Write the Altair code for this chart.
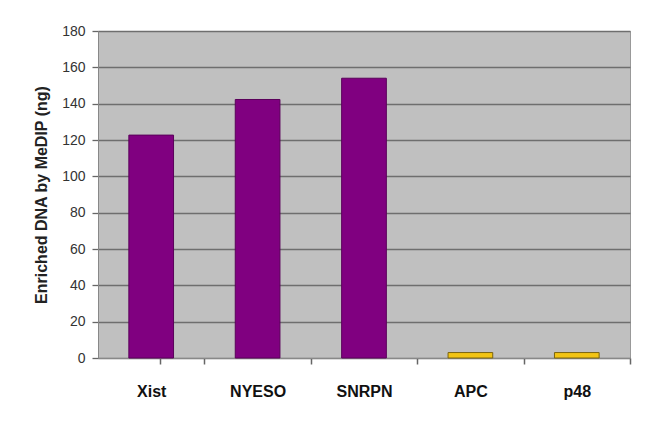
import altair as alt
import pandas as pd

categories = ["Xist", "NYESO", "SNRPN", "APC", "p48"]
values = [122.7, 142.3, 154.0, 3.0, 3.0]
fills = ["#800080", "#800080", "#800080", "#F2C414", "#F2C414"]
strokes = ["#5a005a", "#5a005a", "#5a005a", "#7a6410", "#7a6410"]

df = pd.DataFrame({"cat": categories, "val": values, "fill": fills, "stroke": strokes})

FONT = "Liberation Sans"

chart = alt.Chart(df).mark_bar(strokeWidth=1).encode(
    x=alt.X("cat:N", sort=categories, title=None,
            scale=alt.Scale(paddingInner=0.58, paddingOuter=0.29),
            axis=alt.Axis(labelAngle=0, labelFont=FONT, labelFontSize=16, labelFontWeight="bold",
                          labelColor="#111111", labelPadding=19, labelOffset=-30.9,
                          ticks=True, bandPosition=1,
                          tickOffset=30.9, tickExtra=True, tickSize=6, tickWidth=1.5,
                          tickColor="#666666", domainColor="#888888", grid=False)),
    y=alt.Y("val:Q", title="Enriched DNA by MeDIP (ng)",
            scale=alt.Scale(domain=[0, 180], nice=False),
            axis=alt.Axis(values=list(range(0, 181, 20)), labelFont=FONT, labelFontSize=14,
                          labelColor="#333333", labelPadding=7, tickSize=6, tickColor="#666666",
                          tickWidth=1.3, domainColor="#888888", gridColor="#6e6e6e", gridWidth=1.4,
                          titleFont=FONT, titleFontSize=16, titleFontWeight="bold",
                          titleColor="#222222", titlePadding=12)),
    fill=alt.Fill("fill:N", scale=None),
    stroke=alt.Stroke("stroke:N", scale=None),
).properties(
    width=532, height=327,
    padding={"left": 90, "top": 23, "right": 12, "bottom": 60},
    autosize=alt.AutoSizeParams(type="none"),
).configure(background="white").configure_view(fill="#C0C0C0", stroke="#999999")

chart.save("out.html", embed_options={"renderer": "svg", "actions": False})
